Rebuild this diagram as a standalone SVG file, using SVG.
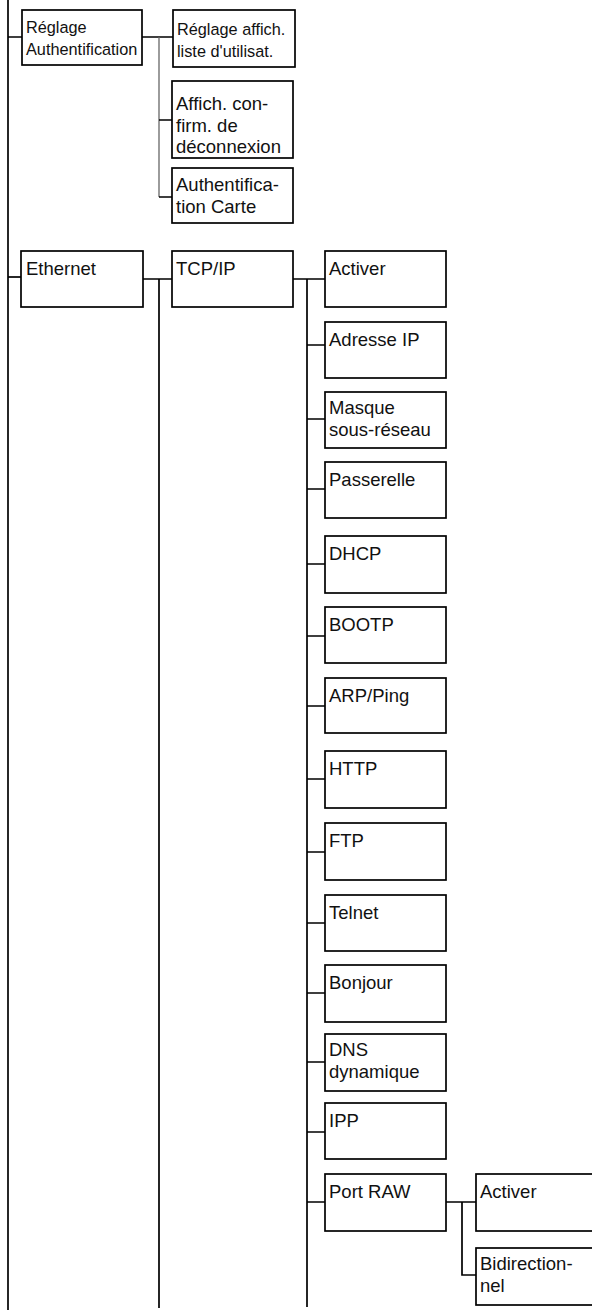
<svg xmlns="http://www.w3.org/2000/svg" width="592" height="1310" viewBox="0 0 592 1310">
<style>
.b{fill:#fff;stroke:#000;stroke-width:1.7}
.t{font-family:"Liberation Sans",Arial,sans-serif;font-size:18.5px;fill:#111}
.s{font-size:16.3px}
.c{fill:none;stroke:#000;stroke-width:1.7}
.g{fill:none;stroke:#666;stroke-width:1.3}
</style>
<rect width="592" height="1310" fill="#fff"/>
<g id="connectors">
<path class="c" d="M8 0V1310"/>
<path class="c" d="M8 37H22M142 37H173"/>
<path class="g" d="M159 37V197"/>
<path class="c" d="M159 120H172M159 197H172"/>
<path class="c" d="M8 277H21"/>
<path class="c" d="M143 279H172M159 279V1308"/>
<path class="c" d="M293 279H325M307 279V1307"/>
<path class="c" d="M307 345H325M307 419H325M307 489H325M307 564H325M307 636H325M307 706H325M307 779H325M307 852H325M307 923H325M307 993H325M307 1062H325M307 1132H325M307 1202H325"/>
<path class="c" d="M446 1202H476M462 1202V1275H476"/>
</g>
<g id="n-reglage-auth"><rect class="b" x="22" y="10" width="120" height="55"/><text class="t s"><tspan x="26" y="33">Réglage</tspan><tspan x="26" y="55">Authentification</tspan></text></g>
<g id="n-reglage-affich"><rect class="b" x="173" y="10" width="122" height="57"/><text class="t s"><tspan x="177" y="35">Réglage affich.</tspan><tspan x="177" y="57">liste d'utilisat.</tspan></text></g>
<g id="n-affich-confirm"><rect class="b" x="172" y="81" width="121" height="77"/><text class="t"><tspan x="176" y="110">Affich. con-</tspan><tspan x="176" y="132">firm. de</tspan><tspan x="176" y="153">déconnexion</tspan></text></g>
<g id="n-auth-carte"><rect class="b" x="172" y="168" width="121" height="55"/><text class="t"><tspan x="176" y="191">Authentifica-</tspan><tspan x="176" y="213">tion Carte</tspan></text></g>
<g id="n-ethernet"><rect class="b" x="21" y="251" width="122" height="56"/><text class="t" x="26" y="275">Ethernet</text></g>
<g id="n-tcpip"><rect class="b" x="172" y="251" width="121" height="56"/><text class="t" x="176" y="275">TCP/IP</text></g>
<g id="n-activer"><rect class="b" x="325" y="251" width="121" height="56"/><text class="t" x="329" y="275">Activer</text></g>
<g id="n-adresse-ip"><rect class="b" x="325" y="322" width="121" height="56"/><text class="t" x="329" y="346">Adresse IP</text></g>
<g id="n-masque"><rect class="b" x="325" y="392" width="121" height="56"/><text class="t"><tspan x="329" y="414">Masque</tspan><tspan x="329" y="436">sous-réseau</tspan></text></g>
<g id="n-passerelle"><rect class="b" x="325" y="462" width="121" height="56"/><text class="t" x="329" y="486">Passerelle</text></g>
<g id="n-dhcp"><rect class="b" x="325" y="536" width="121" height="57"/><text class="t" x="329" y="560">DHCP</text></g>
<g id="n-bootp"><rect class="b" x="325" y="607" width="121" height="56"/><text class="t" x="329" y="631">BOOTP</text></g>
<g id="n-arp"><rect class="b" x="325" y="678" width="121" height="55"/><text class="t" x="329" y="702">ARP/Ping</text></g>
<g id="n-http"><rect class="b" x="325" y="751" width="121" height="57"/><text class="t" x="329" y="775">HTTP</text></g>
<g id="n-ftp"><rect class="b" x="325" y="823" width="121" height="57"/><text class="t" x="329" y="847">FTP</text></g>
<g id="n-telnet"><rect class="b" x="325" y="895" width="121" height="56"/><text class="t" x="329" y="919">Telnet</text></g>
<g id="n-bonjour"><rect class="b" x="325" y="965" width="121" height="57"/><text class="t" x="329" y="989">Bonjour</text></g>
<g id="n-dns"><rect class="b" x="325" y="1034" width="121" height="57"/><text class="t"><tspan x="329" y="1056">DNS</tspan><tspan x="329" y="1078">dynamique</tspan></text></g>
<g id="n-ipp"><rect class="b" x="325" y="1103" width="121" height="56"/><text class="t" x="329" y="1127">IPP</text></g>
<g id="n-port-raw"><rect class="b" x="325" y="1174" width="121" height="57"/><text class="t" x="329" y="1198">Port RAW</text></g>
<g id="n-raw-activer"><rect class="b" x="476" y="1174" width="130" height="57"/><text class="t" x="480" y="1198">Activer</text></g>
<g id="n-bidir"><rect class="b" x="476" y="1248" width="130" height="57"/><text class="t"><tspan x="480" y="1270">Bidirection-</tspan><tspan x="480" y="1292">nel</tspan></text></g>
</svg>
